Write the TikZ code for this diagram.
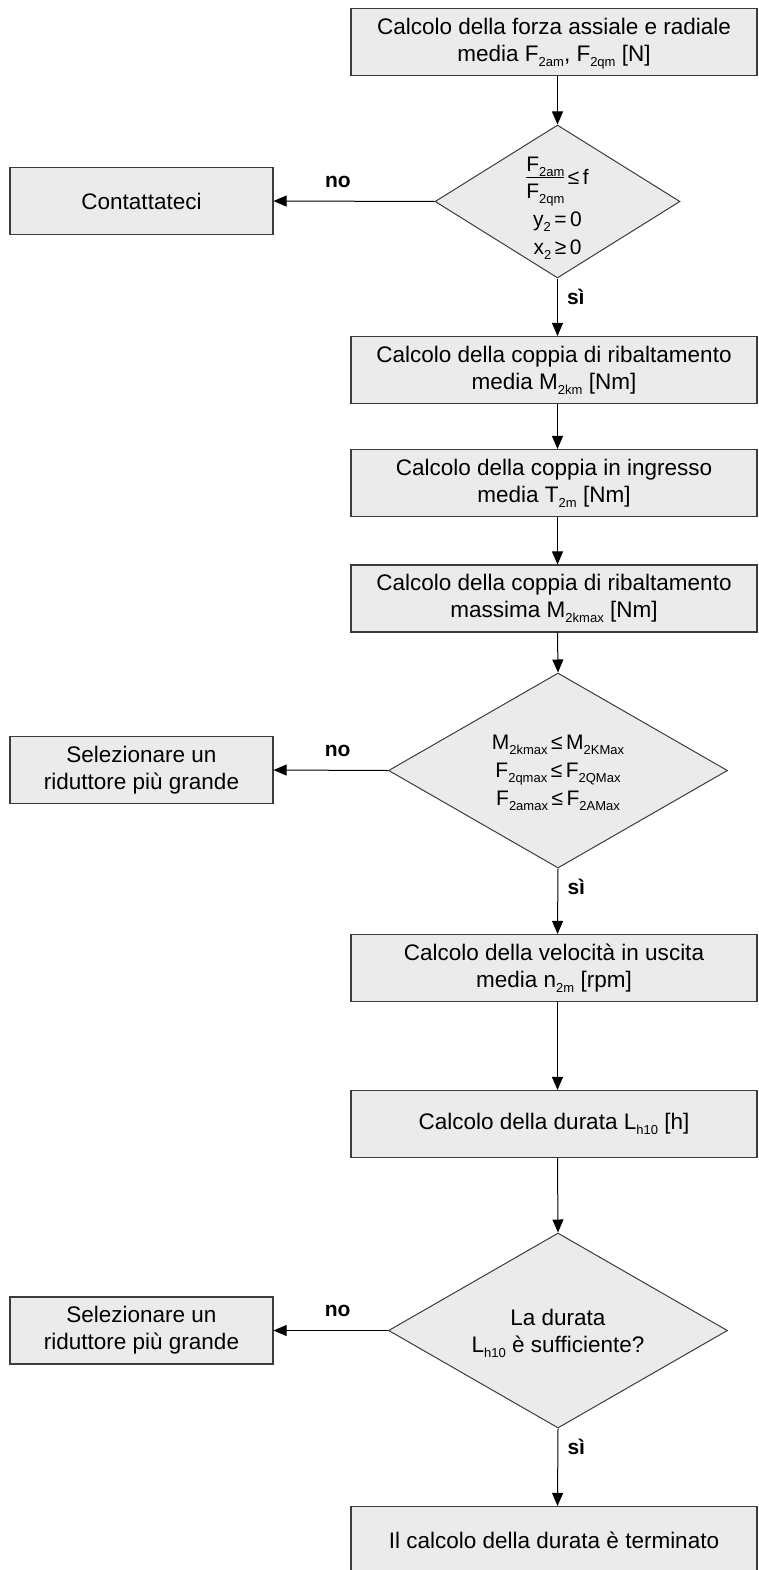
\documentclass[tikz,border=0pt]{standalone}
\usepackage{fontspec}
\setmainfont{Liberation Sans}
\usetikzlibrary{arrows.meta,positioning,shapes.geometric}
\definecolor{BoxGray}{RGB}{235,235,235}
\definecolor{EdgeGray}{RGB}{60,60,60}
\newcommand{\lowidx}[1]{\raisebox{-5pt}[0pt][0pt]{\fontsize{13}{13}\selectfont #1}}

\begin{document}
\begin{tikzpicture}[x=1pt, y=-1pt,
  every node/.style={font=\fontsize{22.5}{27}\selectfont},
  procbox/.style={draw=EdgeGray, line width=1.1pt, fill=BoxGray, minimum width=406pt, minimum height=67pt, inner sep=0pt, align=center},
  sidebox/.style={procbox, minimum width=263pt},
  choice/.style={diamond, draw=EdgeGray, line width=1pt, fill=BoxGray, inner sep=0pt},
  answer/.style={font=\bfseries\fontsize{21}{21}\selectfont, inner sep=0pt},
  flow/.style={-{Triangle[length=13pt,width=11pt]}, line width=1pt}]
\useasboundingbox (0,0) rectangle (758,1570);
\coordinate (axis) at (557.5,0);

% main column
\node[procbox] (force) at (554,42) {Calcolo della forza assiale e radiale\\media F\lowidx{2am}, F\lowidx{2qm} [N]};
\node[choice, minimum width=245pt, minimum height=153pt] (ratio) at (557.5,201.5) {};
\node[font=\fontsize{21}{28}\selectfont] (ratiotxt) at ([yshift=-6pt]ratio.center) {%
  \begin{tabular}{@{}c@{}}
  \begin{tabular}{@{}c@{}}F\lowidx{2am}\\[-3pt]\hline\rule{0pt}{21pt}F\lowidx{2qm}\end{tabular}\,≤\,f\\[12pt]
  y\lowidx{2}\,=\,0\\
  x\lowidx{2}\,≥\,0
  \end{tabular}};
\node[procbox] (tilt) at (554,370) {Calcolo della coppia di ribaltamento\\media M\lowidx{2km} [Nm]};
\node[procbox] (torque) at (554,483) {Calcolo della coppia in ingresso\\media T\lowidx{2m} [Nm]};
\node[procbox] (tiltmax) at (554,598.5) {Calcolo della coppia di ribaltamento\\massima M\lowidx{2kmax} [Nm]};
\node[choice, minimum width=339pt, minimum height=195pt] (limits) at (558,770.5) {};
\node[align=center, font=\fontsize{21}{28}\selectfont] (limitstxt) at (limits.center) {%
  M\lowidx{2kmax}\,≤\,M\lowidx{2KMax}\\
  F\lowidx{2qmax}\,≤\,F\lowidx{2QMax}\\
  F\lowidx{2amax}\,≤\,F\lowidx{2AMax}};
\node[procbox] (speed) at (554,968) {Calcolo della velocità in uscita\\media n\lowidx{2m} [rpm]};
\node[procbox] (life) at (554,1124) {Calcolo della durata L\lowidx{h10} [h]};
\node[choice, minimum width=339pt, minimum height=195pt] (enough) at (558,1330.5) {};
\node[align=center] (enoughtxt) at (enough.center) {La durata\\L\lowidx{h10} è sufficiente?};
\node[procbox] (done) at (554,1540) {Il calcolo della durata è terminato};

% side column
\node[sidebox] (contact) at (141.5,201) {Contattateci};
\node[sidebox] (bigger) at (141.5,770) {Selezionare un\\riduttore più grande};
\node[sidebox] (biggeragain) at (141.5,1330.5) {Selezionare un\\riduttore più grande};

% connectors
\draw[flow] (force.south -| axis) -- (ratio.north);
\draw[flow] (ratio.south) -- (tilt.north -| axis) node[answer, pos=0, below right=10pt and 9pt] {sì};
\draw[flow] (ratio.west) -- (contact.east) node[answer, pos=0.6, above=13pt] {no};
\draw[flow] (tilt.south -| axis) -- (torque.north -| axis);
\draw[flow] (torque.south -| axis) -- (tiltmax.north -| axis);
\draw[flow] (tiltmax.south -| axis) -- (limits.north);
\draw[flow] (limits.south) -- (speed.north -| axis) node[answer, pos=0, below right=10pt and 9pt] {sì};
\draw[flow] (limits.west) -- (bigger.east) node[answer, pos=0.44, above=13pt] {no};
\draw[flow] (speed.south -| axis) -- (life.north -| axis);
\draw[flow] (life.south -| axis) -- (enough.north);
\draw[flow] (enough.south) -- (done.north -| axis) node[answer, pos=0, below right=10pt and 9pt] {sì};
\draw[flow] (enough.west) -- (biggeragain.east) node[answer, pos=0.44, above=13pt] {no};
\end{tikzpicture}
\end{document}
